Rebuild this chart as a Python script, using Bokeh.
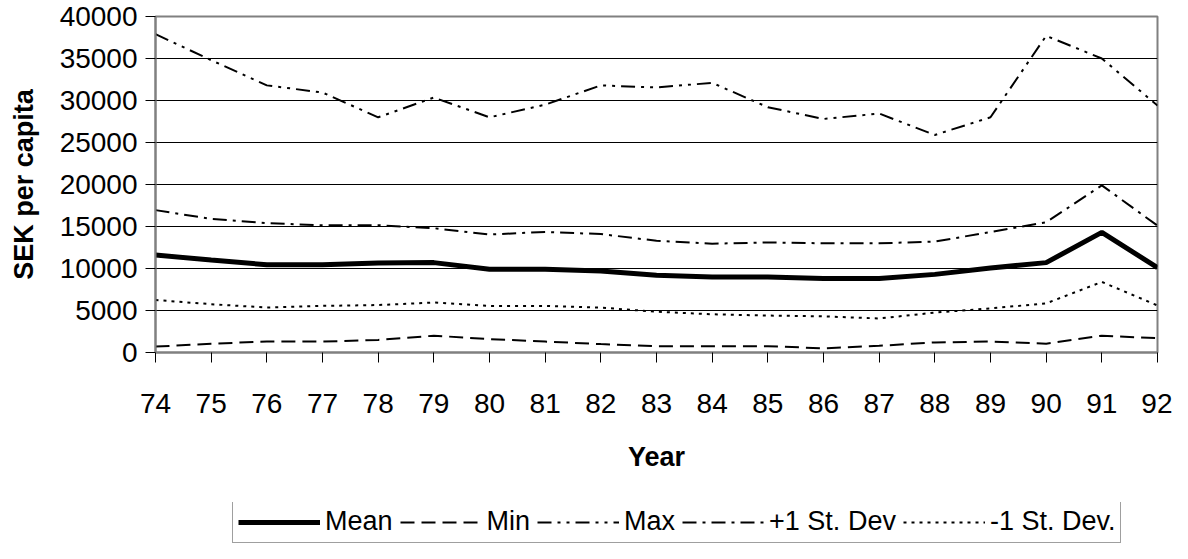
from bokeh.plotting import figure
from bokeh.layouts import column
from bokeh.models import Legend, LegendItem, FixedTicker, Range1d, ColumnDataSource
from bokeh.embed import file_html
from bokeh.resources import INLINE

years = list(range(74, 93))
mean_vals = [11600, 11000, 10450, 10450, 10650, 10700, 9900, 9900, 9700, 9200, 9000,
             9000, 8800, 8800, 9300, 10050, 10700, 14300, 10100]
min_vals = [700, 1050, 1300, 1300, 1500, 2000, 1600, 1300, 1000, 750, 750,
            750, 500, 800, 1200, 1300, 1050, 2000, 1700]
max_vals = [37900, 34800, 31800, 30950, 28000, 30350, 28000, 29500, 31800, 31550, 32100,
            29200, 27800, 28450, 25900, 28000, 37700, 35000, 29400]
plus_sd = [16950, 15900, 15400, 15150, 15150, 14800, 14050, 14350, 14100, 13300, 12950,
           13100, 13000, 13000, 13200, 14350, 15500, 19900, 15100]
minus_sd = [6250, 5750, 5350, 5550, 5650, 5950, 5550, 5550, 5350, 4850, 4550,
            4400, 4300, 4050, 4750, 5250, 5850, 8400, 5600]
series_labels = ["Mean", "Min", "Max", "+1 St. Dev", "-1 St. Dev."]
y_ticks = [0, 5000, 10000, 15000, 20000, 25000, 30000, 35000, 40000]

src = ColumnDataSource(dict(x=years, mean=mean_vals, mn=min_vals, mx=max_vals,
                            psd=plus_sd, msd=minus_sd))

FONT = "Liberation Sans"

styles = [
    dict(line_width=5),
    dict(line_width=2, line_dash="14 7"),
    dict(line_width=2, line_dash="14 6 3 6 3 6"),
    dict(line_width=2, line_dash="14 6 3 6"),
    dict(line_width=2, line_dash="3 5"),
]
fields = ["mean", "mn", "mx", "psd", "msd"]

# ---------------- main chart ----------------
p = figure(width=1172, height=502, output_backend="svg", toolbar_location=None,
           x_range=Range1d(74, 92), y_range=Range1d(0, 40000),
           min_border_left=155, min_border_right=15, min_border_top=16,
           min_border_bottom=150)
p.background_fill_color = "white"
p.border_fill_color = "white"
p.outline_line_color = "#808080"
p.outline_line_width = 2

p.xgrid.visible = False
p.ygrid.ticker = FixedTicker(ticks=y_ticks[1:-1])
p.ygrid.grid_line_color = "black"
p.ygrid.grid_line_width = 1

p.xaxis.ticker = FixedTicker(ticks=years)
p.yaxis.ticker = FixedTicker(ticks=y_ticks)
for ax in (p.xaxis[0], p.yaxis[0]):
    ax.axis_line_color = "#808080"
    ax.axis_line_width = 2
    ax.major_tick_line_color = "black"
    ax.major_tick_out = 10
    ax.major_tick_in = 0
    ax.minor_tick_line_color = None
    ax.major_label_text_font = FONT
    ax.major_label_text_font_size = "28px"
    ax.major_label_text_color = "black"
    ax.axis_label_text_font = FONT
    ax.axis_label_text_font_size = "27px"
    ax.axis_label_text_font_style = "bold"
    ax.axis_label_text_color = "black"

p.xaxis.axis_label = "Year"
p.xaxis.major_label_standoff = 31
p.xaxis.axis_label_standoff = 26
p.yaxis.axis_label = "SEK per capita"
p.yaxis.major_label_standoff = 8
p.yaxis.axis_label_standoff = 18

for f, st in zip(fields, styles):
    p.line("x", f, source=src, line_color="black", **st)

# ---------------- legend strip (frame aligned with main chart) ----------------
pl = figure(width=1172, height=41, output_backend="svg", toolbar_location=None,
            x_range=Range1d(0, 1), y_range=Range1d(0, 1),
            x_axis_location=None, y_axis_location=None,
            min_border_left=155, min_border_right=15, min_border_top=0, min_border_bottom=0)
pl.grid.visible = False
pl.outline_line_color = None
pl.background_fill_color = "white"
pl.border_fill_color = "white"

leg_renderers = [pl.line("x", f, source=src, line_color="black", **st)
                 for f, st in zip(fields, styles)]

legend = Legend(items=[LegendItem(label=l, renderers=[r])
                       for l, r in zip(series_labels, leg_renderers)],
                orientation="horizontal", location=(77, 0), margin=0,
                padding=5, spacing=7, label_standoff=5, glyph_width=82, glyph_height=20,
                label_text_font=FONT, label_text_font_size="27px",
                label_text_color="black",
                border_line_color="#404040", border_line_width=1,
                background_fill_color="white", background_fill_alpha=1.0)
pl.add_layout(legend, "center")

layout = column(p, pl, spacing=0)
open("out.html", "w").write(file_html(layout, INLINE))
